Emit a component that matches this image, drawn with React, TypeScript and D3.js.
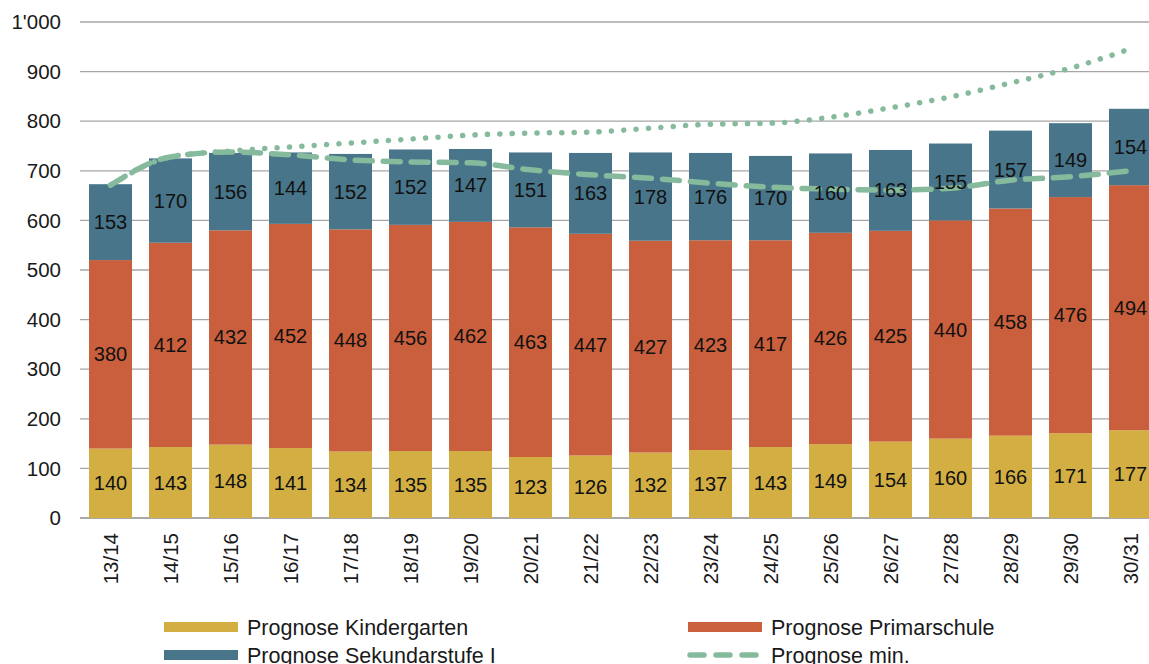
import React, { useMemo } from "react";
import * as d3 from "d3";

const years = [
  "13/14", "14/15", "15/16", "16/17", "17/18", "18/19", "19/20", "20/21", "21/22",
  "22/23", "23/24", "24/25", "25/26", "26/27", "27/28", "28/29", "29/30", "30/31",
];
const kindergarten = [140, 143, 148, 141, 134, 135, 135, 123, 126, 132, 137, 143, 149, 154, 160, 166, 171, 177];
const primarschule = [380, 412, 432, 452, 448, 456, 462, 463, 447, 427, 423, 417, 426, 425, 440, 458, 476, 494];
const sekundarstufe = [153, 170, 156, 144, 152, 152, 147, 151, 163, 178, 176, 170, 160, 163, 155, 157, 149, 154];
const prognoseMin = [671, 728, 738, 732, 722, 718, 716, 702, 692, 685, 675, 667, 663, 661, 665, 681, 688, 700];
const prognoseMax = [671, 728, 740, 748, 756, 764, 772, 776, 778, 786, 794, 796, 808, 827, 849, 877, 907, 946];
const yTicks = [0, 100, 200, 300, 400, 500, 600, 700, 800, 900, 1000];

const seriesNames = ["Prognose Kindergarten", "Prognose Primarschule", "Prognose Sekundarstufe I"];
const colors = ["#D3AF43", "#C95F3C", "#487589"];
const lineColor = "#86BA9C";

const W = 1149;
const H = 664;
const FONT = "'Liberation Sans', Arial, sans-serif";

const fmt = (v: number) => (v >= 1000 ? d3.format(",")(v).replace(",", "'") : String(v));

export default function App() {
  const x = useMemo(
    () =>
      d3
        .scaleBand<string>()
        .domain(years)
        .range([80, 80 + 60 * (18 - 0.283 + 0.3)])
        .paddingInner(0.283)
        .paddingOuter(0.15),
    []
  );
  const y = useMemo(() => d3.scaleLinear().domain([0, 1000]).range([518, 22]), []);

  const stacked = useMemo(() => {
    const rows = years.map((yr, i) => ({
      year: yr,
      k: kindergarten[i],
      p: primarschule[i],
      s: sekundarstufe[i],
    }));
    return d3.stack<any>().keys(["k", "p", "s"])(rows);
  }, []);

  const cx = (yr: string) => (x(yr) ?? 0) + x.bandwidth() / 2;
  const line = d3
    .line<number>()
    .x((_, i) => cx(years[i]))
    .y((d) => y(d))
    .curve(d3.curveMonotoneX);

  return (
    <svg
      width={W}
      height={H}
      style={{ position: "absolute", left: 0, top: 0, background: "#fff" }}
      fontFamily={FONT}
    >
      {yTicks.map((t) => (
        <g key={t}>
          <line x1={80} x2={W} y1={y(t)} y2={y(t)} stroke={t === 0 ? "#8c8c8c" : "#a6a6a6"} strokeWidth={1.3} />
          <text x={61} y={y(t)} dy="0.35em" textAnchor="end" fontSize={20.5} fill="#1a1a1a">
            {fmt(t)}
          </text>
        </g>
      ))}

      {stacked.map((layer, li) => (
        <g key={li} fill={colors[li]}>
          {layer.map((d, i) => (
            <rect
              key={i}
              x={x(years[i])}
              y={y(d[1])}
              width={x.bandwidth()}
              height={y(d[0]) - y(d[1])}
            />
          ))}
        </g>
      ))}

      <path
        d={line(prognoseMax) ?? ""}
        fill="none"
        stroke={lineColor}
        strokeWidth={5.5}
        strokeLinecap="round"
        strokeDasharray="0.1 12.3"
      />
      <path
        d={line(prognoseMin) ?? ""}
        fill="none"
        stroke={lineColor}
        strokeWidth={5.5}
        strokeLinecap="round"
        strokeDasharray="17 11"
      />

      {stacked.map((layer, li) =>
        layer.map((d, i) => (
          <text
            key={`${li}-${i}`}
            x={cx(years[i])}
            y={y((d[0] + d[1]) / 2)}
            dy="0.35em"
            textAnchor="middle"
            fontSize={20}
            fill="#111"
          >
            {d[1] - d[0]}
          </text>
        ))
      )}

      {years.map((yr) => (
        <text
          key={yr}
          transform={`translate(${cx(yr)},533) rotate(-90)`}
          dy="0.35em"
          textAnchor="end"
          fontSize={20.5}
          fill="#1a1a1a"
        >
          {yr}
        </text>
      ))}

      <g fontSize={21.5} fill="#1a1a1a">
        <rect x={164} y={622} width={74} height={10} fill={colors[0]} />
        <text x={247} y={635}>{seriesNames[0]}</text>
        <rect x={164} y={650} width={74} height={10} fill={colors[2]} />
        <text x={247} y={663}>{seriesNames[2]}</text>
        <rect x={688} y={622} width={74} height={10} fill={colors[1]} />
        <text x={771} y={635}>{seriesNames[1]}</text>
        <line
          x1={690}
          x2={760}
          y1={655}
          y2={655}
          stroke={lineColor}
          strokeWidth={5.5}
          strokeLinecap="round"
          strokeDasharray="14 12"
        />
        <text x={771} y={663}>Prognose min.</text>
      </g>
    </svg>
  );
}
